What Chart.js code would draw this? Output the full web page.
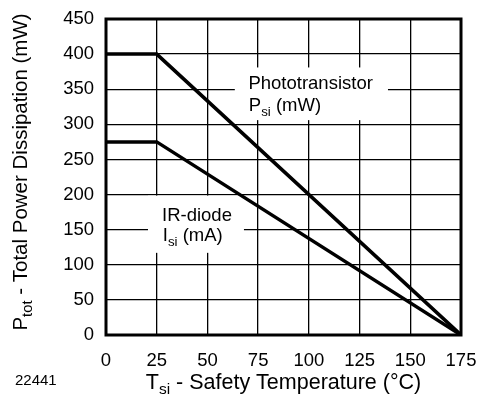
<!DOCTYPE html>
<html>
<head>
<meta charset="utf-8">
<script src="https://cdn.jsdelivr.net/npm/chart.js@4/dist/chart.umd.min.js"></script>
<style>
  body { margin: 0; background: #fff; }
  #wrap { width: 477px; height: 400px; }
</style>
</head>
<body>
<div id="wrap"><canvas id="safetyChart" width="477" height="400"></canvas></div>
<script>
// Data
const tempPoints = [0, 25, 175];
const phototransistorPower = [400, 400, 0];
const irDiodeCurrent = [275, 275, 0];
const xTicks = [0, 25, 50, 75, 100, 125, 150, 175];
const yTicks = [0, 50, 100, 150, 200, 250, 300, 350, 400, 450];

const FONT = "'Liberation Sans', Arial, Helvetica, sans-serif";

// draws text with subscript parts, e.g. [["P"], ["si", true], [" (mW)"]]
function richWidth(ctx, parts, size) {
  let w = 0;
  parts.forEach(function (p) {
    ctx.font = (p[1] ? size * 0.72 : size) + "px " + FONT;
    w += ctx.measureText(p[0]).width;
  });
  return w;
}

function drawRich(ctx, parts, x, y, size, align) {
  const w = richWidth(ctx, parts, size);
  let cx = x;
  if (align === "center") cx = x - w / 2;
  ctx.textBaseline = "middle";
  ctx.textAlign = "left";
  parts.forEach(function (p) {
    const s = p[1] ? size * 0.72 : size;
    ctx.font = s + "px " + FONT;
    ctx.fillText(p[0], cx, p[1] ? y + size * 0.32 : y);
    cx += ctx.measureText(p[0]).width;
  });
}

const labelsPlugin = {
  id: "labels",
  beforeDatasetsDraw(chart) {
    const ctx = chart.ctx;
    const x = chart.scales.x, y = chart.scales.y;
    ctx.save();
    ctx.fillStyle = "#fff";
    // white boxes behind the curve names
    ctx.fillRect(x.getPixelForValue(63.5), y.getPixelForValue(381),
      x.getPixelForValue(139) - x.getPixelForValue(63.5), y.getPixelForValue(306) - y.getPixelForValue(381));
    ctx.fillRect(x.getPixelForValue(20.7), y.getPixelForValue(198.5),
      x.getPixelForValue(68) - x.getPixelForValue(20.7), y.getPixelForValue(117) - y.getPixelForValue(198.5));
    ctx.fillStyle = "#000";
    drawRich(ctx, [["Phototransistor"]], x.getPixelForValue(70.2), y.getPixelForValue(357), 18.5, "left");
    drawRich(ctx, [["P"], ["si", true], [" (mW)"]], x.getPixelForValue(70.4), y.getPixelForValue(326), 18.5, "left");
    drawRich(ctx, [["IR-diode"]], x.getPixelForValue(27.6), y.getPixelForValue(170), 18.5, "left");
    drawRich(ctx, [["I"], ["si", true], [" (mA)"]], x.getPixelForValue(28), y.getPixelForValue(141), 18.5, "left");
    ctx.restore();
  },
  afterDraw(chart) {
    const ctx = chart.ctx;
    const a = chart.chartArea;
    ctx.save();
    ctx.strokeStyle = "#000";
    ctx.lineWidth = 3;
    ctx.strokeRect(a.left, a.top, a.right - a.left, a.bottom - a.top);
    ctx.fillStyle = "#000";
    drawRich(ctx, [["T"], ["si", true], [" - Safety Temperature (\u00B0C)"]], (a.left + a.right) / 2, 383, 21.5, "center");
    drawRich(ctx, [["22441"]], 15, 381, 15, "left");
    ctx.translate(21, (a.top + a.bottom) / 2 - 5);
    ctx.rotate(-Math.PI / 2);
    drawRich(ctx, [["P"], ["tot", true], [" - Total Power Dissipation (mW)"]], 0, 0, 20.5, "center");
    ctx.restore();
  }
};

function noScalePadding(s) {
  s.paddingLeft = 0;
  s.paddingRight = 0;
  s.paddingTop = 0;
  s.paddingBottom = 0;
}

const ctx = document.getElementById("safetyChart").getContext("2d");
new Chart(ctx, {
  type: "line",
  data: {
    datasets: [
      {
        label: "Phototransistor Psi (mW)",
        data: tempPoints.map((t, i) => ({ x: t, y: phototransistorPower[i] })),
        borderColor: "#000",
        borderWidth: 3.5,
        pointRadius: 0,
        tension: 0,
      },
      {
        label: "IR-diode Isi (mA)",
        data: tempPoints.map((t, i) => ({ x: t, y: irDiodeCurrent[i] })),
        borderColor: "#000",
        borderWidth: 3.5,
        pointRadius: 0,
        tension: 0,
      },
    ],
  },
  options: {
    responsive: false,
    animation: false,
    layout: { padding: { left: 0, top: 19, right: 16, bottom: 0 } },
    plugins: {
      legend: { display: false },
      tooltip: { enabled: false },
    },
    scales: {
      x: {
        type: "linear",
        min: xTicks[0],
        max: xTicks[xTicks.length - 1],
        afterBuildTicks: (s) => { s.ticks = xTicks.map((v) => ({ value: v })); },
        afterFit: (s) => { s.height = 65; noScalePadding(s); },
        ticks: { color: "#000", font: { family: FONT, size: 18.5 }, padding: 15, maxRotation: 0 },
        grid: { color: "#000", lineWidth: 1.3, drawTicks: false },
        border: { display: false },
      },
      y: {
        min: yTicks[0],
        max: yTicks[yTicks.length - 1],
        afterBuildTicks: (s) => { s.ticks = yTicks.map((v) => ({ value: v })); },
        afterFit: (s) => { s.width = 106; noScalePadding(s); },
        ticks: { color: "#000", font: { family: FONT, size: 18.5 }, padding: 12 },
        grid: { color: "#000", lineWidth: 1.3, drawTicks: false },
        border: { display: false },
      },
    },
  },
  plugins: [labelsPlugin],
});
</script>
</body>
</html>
